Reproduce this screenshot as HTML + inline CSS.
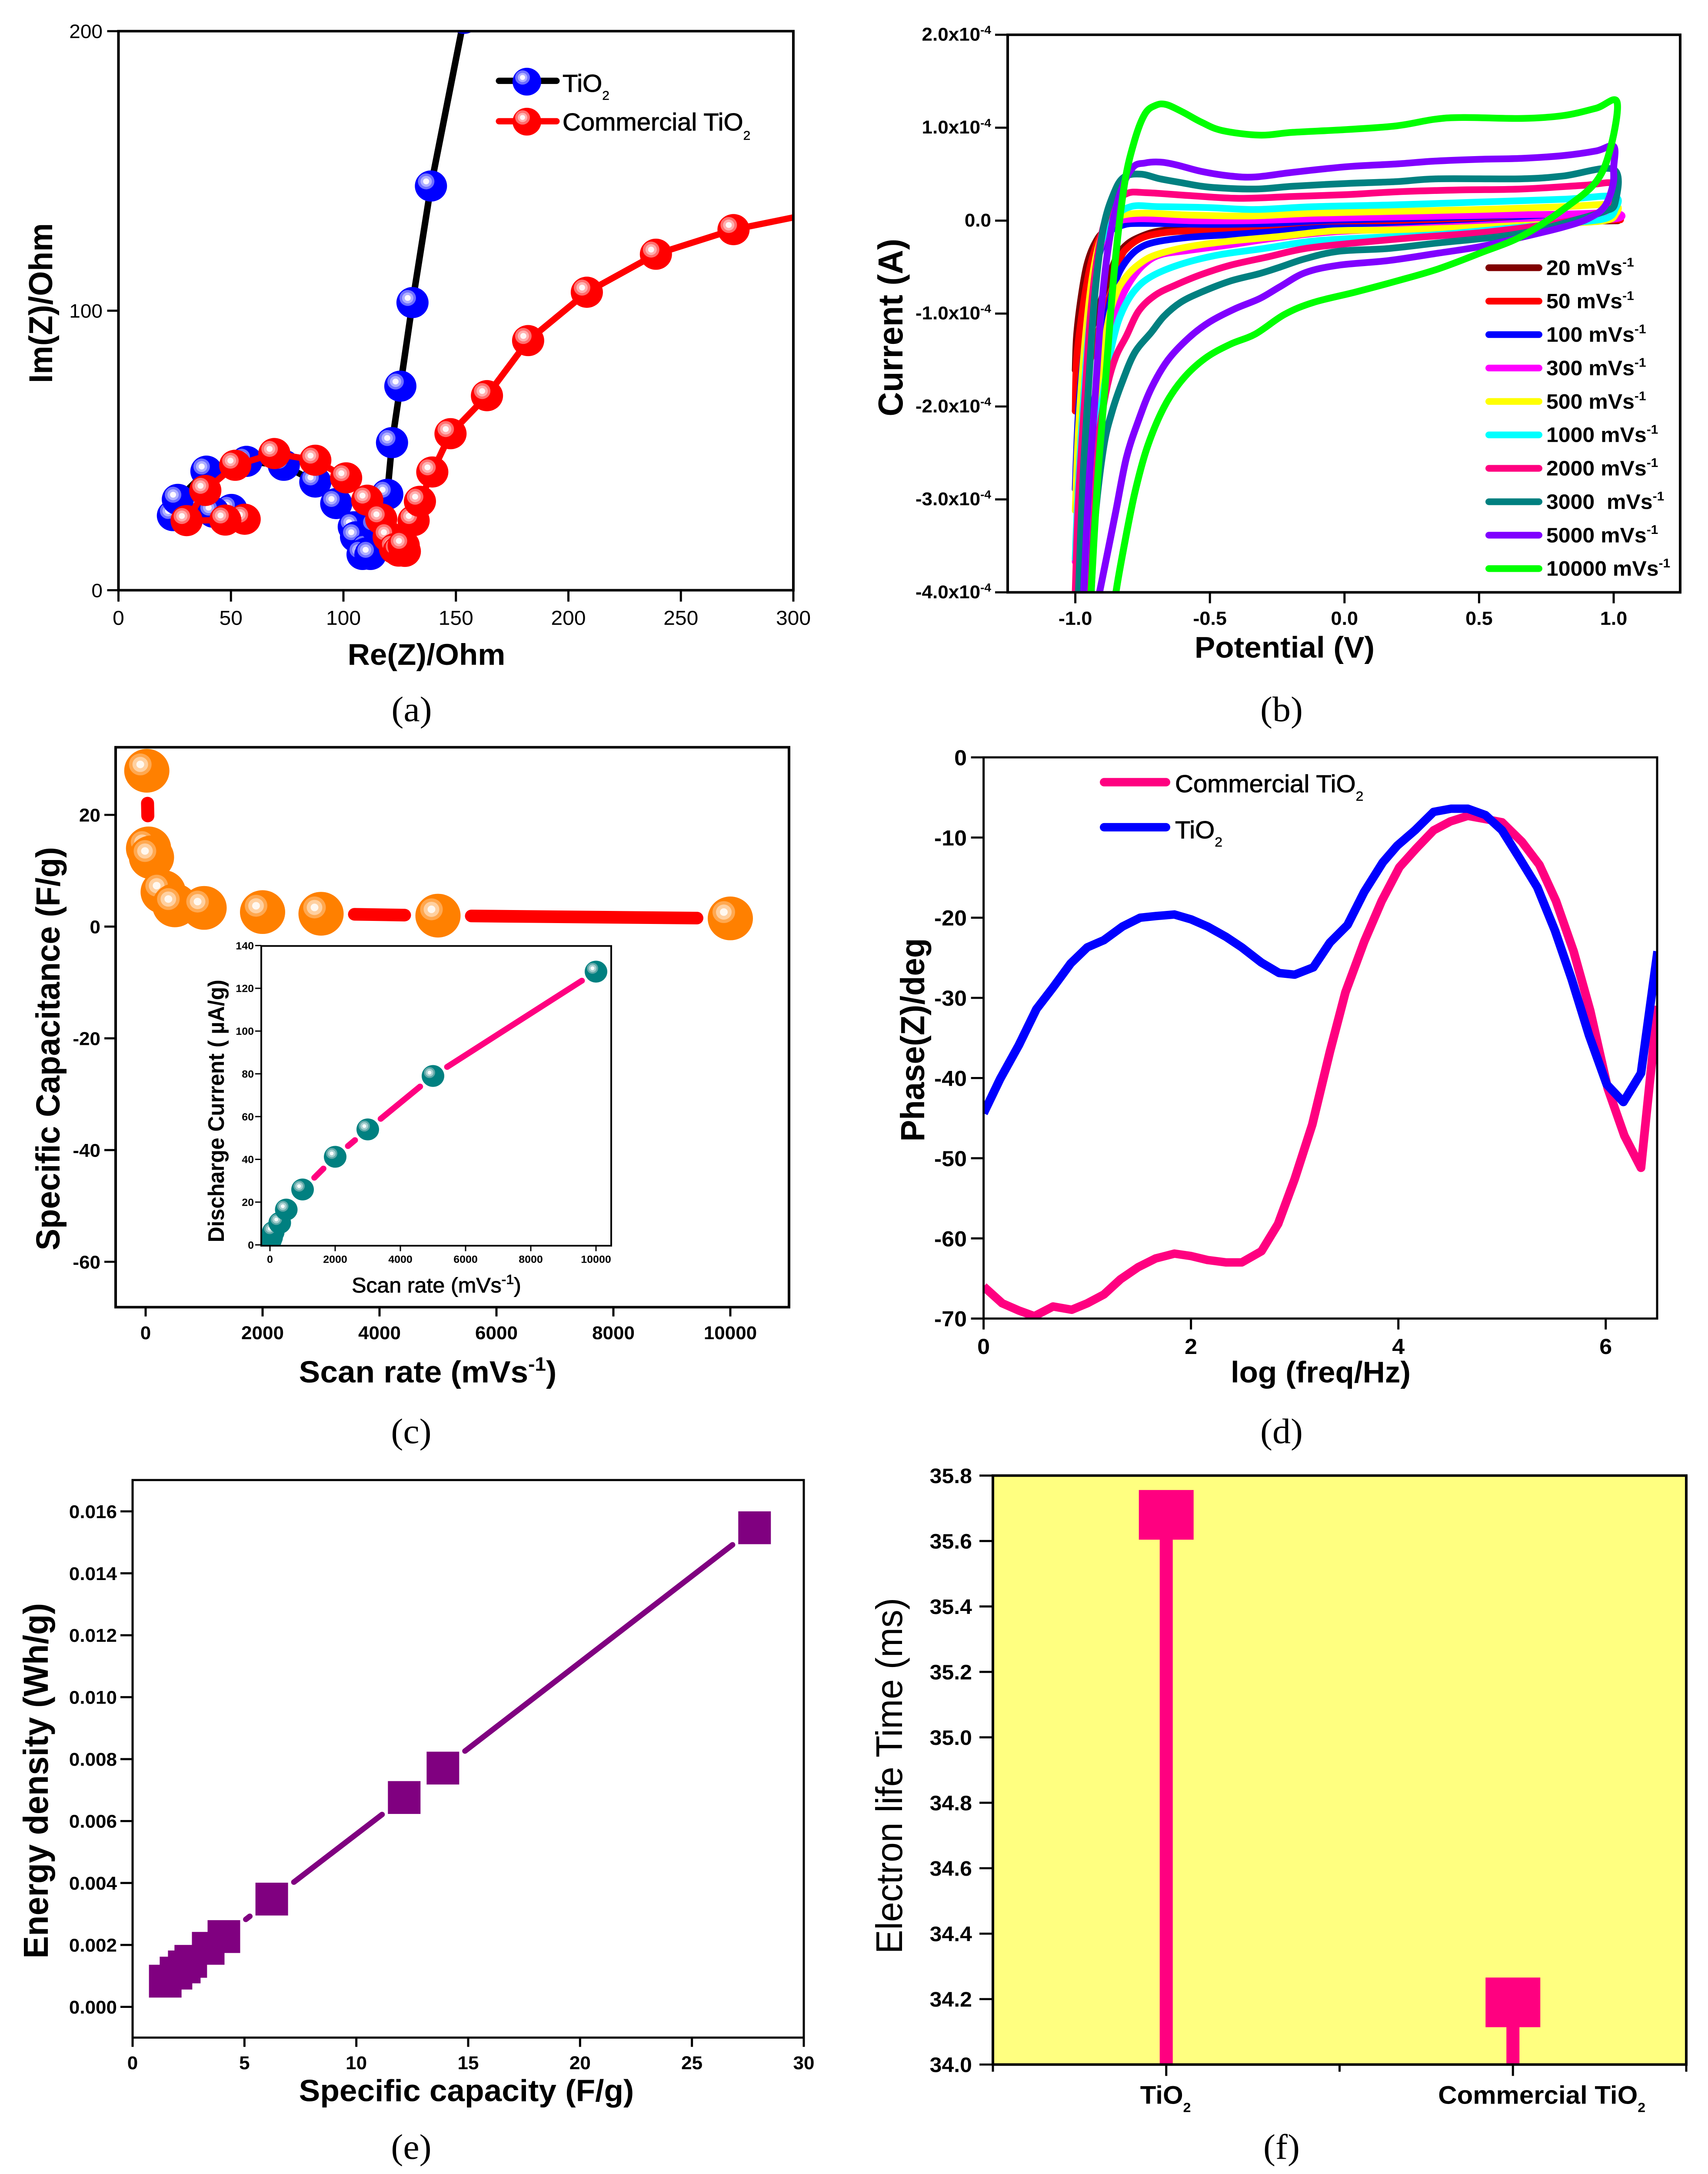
<!DOCTYPE html>
<html lang="en">
<head>
<meta charset="utf-8">
<title>TiO2 electrochemical characterisation figure</title>
<style>
html,body{margin:0;padding:0;background:#fff;width:100vw;height:100vh;overflow:hidden;}
svg{display:block;width:100vw;height:100vh;font-family:"Liberation Sans",sans-serif;fill:#000;}
.cap{font-family:"Liberation Serif",serif;font-size:84px;text-anchor:middle;}
.tb{font-weight:bold;text-anchor:middle;}
.leg{font-size:58px;stroke:#000;stroke-width:1px;}
</style>
</head>
<body>
<svg id="fig" xmlns="http://www.w3.org/2000/svg" viewBox="0 0 3929 5164" preserveAspectRatio="none">
<defs>
<clipPath id="clipA"><rect x="272.5" y="74" width="1552.5" height="1328"/></clipPath>
<clipPath id="clipB"><rect x="2318" y="82.6" width="1547" height="1324.4"/></clipPath>
<clipPath id="clipC"><rect x="266" y="1775" width="1549" height="1330"/></clipPath>
<clipPath id="clipI"><rect x="601" y="2247" width="805" height="712"/></clipPath>
<clipPath id="clipD"><rect x="2262.6" y="1799" width="1550" height="1333"/></clipPath>
</defs>
<g id="panelA">
<text x="981" y="1579" font-size="71" class="tb">Re(Z)/Ohm</text>
<text x="120" y="720" font-size="76" class="tb" transform="rotate(-90 120 720)">Im(Z)/Ohm</text>
<text x="1294" y="218" class="leg">TiO<tspan dy="19" font-size="30" stroke-width="0.5">2</tspan></text>
<text x="1294" y="310" class="leg">Commercial TiO<tspan dy="22" font-size="30" stroke-width="0.5">2</tspan></text>
<text x="947" y="1713" class="cap">(a)</text>
</g>
<g id="panelB">
<text x="2955" y="1562" font-size="71" class="tb">Potential (V)</text>
<text x="2076" y="778" font-size="80" class="tb" transform="rotate(-90 2076 778)">Current (A)</text>
<text x="2948" y="1713" class="cap">(b)</text>
</g>
<g id="panelC">
<text x="984" y="3284" font-size="73" class="tb">Scan rate (mVs<tspan dy="-28" font-size="46">-1</tspan><tspan dy="28">)</tspan></text>
<text x="137" y="2491" font-size="77" class="tb" transform="rotate(-90 137 2491)">Specific Capacitance (F/g)</text>
<text x="1004" y="3070" font-size="50" text-anchor="middle" stroke="#000" stroke-width="1">Scan rate (mVs<tspan dy="-20" font-size="32">-1</tspan><tspan dy="20">)</tspan></text>
<text x="515" y="2639" font-size="52" class="tb" textLength="624" lengthAdjust="spacingAndGlyphs" transform="rotate(-90 515 2639)">Discharge Current ( µA/g)</text>
<text x="946" y="3428" class="cap">(c)</text>
</g>
<g id="panelD">
<text x="3038" y="3284" font-size="71" class="tb">log (freq/Hz)</text>
<text x="2126" y="2470" font-size="77" class="tb" transform="rotate(-90 2126 2470)">Phase(Z)/deg</text>
<text x="2703" y="1882" class="leg">Commercial TiO<tspan dy="20" font-size="32" stroke-width="0.5">2</tspan></text>
<text x="2703" y="1991" class="leg">TiO<tspan dy="20" font-size="32" stroke-width="0.5">2</tspan></text>
<text x="2948" y="3428" class="cap">(d)</text>
</g>
<g id="panelE">
<text x="1073" y="4991" font-size="73" class="tb">Specific capacity (F/g)</text>
<text x="110" y="4230" font-size="80" class="tb" transform="rotate(-90 110 4230)">Energy density (Wh/g)</text>
<text x="946" y="5128" class="cap">(e)</text>
</g>
<g id="panelF">
<text x="2075" y="4218" font-size="85" text-anchor="middle" transform="rotate(-90 2075 4218)">Electron life Time (ms)</text>
<text x="2948" y="5128" class="cap">(f)</text>
</g>
</svg>
<script>
/* ---------- panel a: Nyquist ---------- */
const aTiO2Re=[50.2,42.2,24.2,26.4,39.1,56.9,73.5,87.5,96.8,104.6,105.6,110.6,110,108.5,112,114.5,119.5,121.6,125.3,130.7,138.9,153.6];
const aTiO2Im=[28.9,27.9,26.7,32.5,42.6,46.1,44.7,38.7,31,22.7,19.1,14.9,13.3,12.8,12.8,22.7,34.3,52.8,73,102.9,144.6,204.6];
const aCommRe=[56.1,47.5,30.3,38.6,51.9,69.3,87.5,101.2,110.6,116.8,120.1,122.9,124.6,127.3,126.8,131.2,134,139.5,147.6,163.8,182.1,208.2,238.9,273.4,332];
const aCommIm=[25.4,25.1,24.9,35.7,44.7,48.9,46.5,40.2,32.2,25.5,19.1,14.9,14,13.9,16,24.9,31.8,42.3,56,69.6,89.3,106.6,120.2,129,138.6];
const aXTicks=[0,50,100,150,200,250,300];
const aYTicks=[0,100,200];

/* ---------- panel b: cyclic voltammetry (current in 1e-4 A) ---------- */
const scanLabels=['20\u00A0mVs','50\u00A0mVs','100\u00A0mVs','300\u00A0mVs','500\u00A0mVs','1000\u00A0mVs','2000\u00A0mVs','3000\u00A0\u00A0mVs','5000\u00A0mVs','10000\u00A0mVs'];
const bV20=[-1,-0.995,-0.98,-0.957,-0.926,-0.887,-0.795,-0.424,0.039,0.503,1.005,0.812,0.348,0.039,-0.192,-0.424,-0.578,-0.686,-0.756,-0.81,-0.849,-0.887,-0.934,-0.964,-1];
const bI20=[-1.61,-1.24,-0.86,-0.48,-0.24,-0.11,-0.03,-0.02,0,0,0,-0.01,-0.03,-0.03,-0.05,-0.07,-0.09,-0.11,-0.17,-0.26,-0.41,-0.71,-1.12,-1.31,-1.61];
const bV50=[-1,-0.995,-0.972,-0.941,-0.903,-0.856,-0.825,-0.578,-0.115,0.348,1.005,0.812,0.348,0.039,-0.192,-0.424,-0.578,-0.671,-0.748,-0.802,-0.833,-0.864,-0.895,-0.934,-1];
const bI50=[-2.05,-1.5,-0.94,-0.45,-0.15,-0.07,-0.03,-0.02,0,0.01,0.01,0,-0.03,-0.04,-0.06,-0.09,-0.11,-0.13,-0.18,-0.28,-0.41,-0.75,-1.01,-1.39,-2.05];
const bV100=[-1,-0.988,-0.964,-0.934,-0.887,-0.825,-0.733,-0.501,-0.27,-0.084,0.194,0.595,0.812,1.005,0.812,0.503,0.194,-0.084,-0.27,-0.424,-0.578,-0.702,-0.764,-0.81,-0.849,-0.88,-0.926,-0.964,-1];
const bI100=[-2.89,-2.06,-1.31,-0.64,-0.18,-0.05,-0.03,-0.04,-0.03,0,0.02,0.05,0.04,0.02,0,-0.04,-0.07,-0.08,-0.12,-0.15,-0.18,-0.23,-0.3,-0.43,-0.64,-1.01,-1.88,-2.44,-2.89];
const bV300=[-1,-0.988,-0.964,-0.934,-0.895,-0.849,-0.764,-0.578,-0.347,-0.115,0.194,0.595,0.812,1.005,1.008,0.812,0.503,0.194,-0.038,-0.239,-0.424,-0.578,-0.686,-0.748,-0.795,-0.833,-0.864,-0.903,-0.949,-1];
const bI300=[-3.67,-2.82,-1.69,-0.75,-0.18,-0.02,0.02,0,0,0.02,0.04,0.06,0.07,0.08,0.02,0,-0.05,-0.09,-0.12,-0.18,-0.26,-0.32,-0.37,-0.48,-0.65,-0.86,-1.12,-1.88,-2.82,-3.67];
const bV500=[-1,-0.988,-0.964,-0.934,-0.895,-0.841,-0.748,-0.578,-0.347,-0.115,0.194,0.503,0.812,1,1.005,0.966,0.812,0.503,0.194,-0.038,-0.239,-0.424,-0.578,-0.702,-0.764,-0.81,-0.849,-0.88,-0.918,-0.964,-1];
const bI500=[-3.12,-2.25,-1.31,-0.56,-0.11,0.04,0.08,0.06,0.05,0.08,0.1,0.12,0.15,0.17,0.06,0,-0.03,-0.07,-0.1,-0.11,-0.17,-0.22,-0.28,-0.37,-0.47,-0.6,-0.79,-1.12,-1.88,-2.63,-3.12];
const bV1000=[-1,-0.988,-0.964,-0.941,-0.91,-0.864,-0.795,-0.686,-0.501,-0.331,-0.115,0.194,0.503,0.812,1,1.005,0.966,0.812,0.58,0.348,0.117,-0.115,-0.3,-0.47,-0.609,-0.717,-0.779,-0.825,-0.856,-0.887,-0.926,-0.964,-1];
const bI1000=[-3.64,-2.82,-1.69,-0.94,-0.3,0,0.15,0.15,0.14,0.12,0.15,0.17,0.2,0.23,0.26,0.12,0.02,-0.03,-0.09,-0.15,-0.18,-0.22,-0.3,-0.37,-0.47,-0.6,-0.75,-0.97,-1.24,-1.69,-2.44,-3.19,-3.64];
const bV2000=[-1,-0.988,-0.964,-0.941,-0.91,-0.872,-0.81,-0.733,-0.578,-0.393,-0.192,0.008,0.194,0.425,0.657,0.889,1,1.005,0.966,0.873,0.734,0.503,0.271,0.039,-0.146,-0.285,-0.424,-0.532,-0.625,-0.702,-0.764,-0.81,-0.849,-0.88,-0.91,-0.934,-0.964];
const bI2000=[-4,-3,-1.88,-0.94,-0.26,0.12,0.29,0.3,0.27,0.24,0.26,0.28,0.31,0.33,0.34,0.38,0.4,0.23,0.12,0.02,-0.05,-0.13,-0.18,-0.24,-0.3,-0.39,-0.48,-0.58,-0.69,-0.8,-0.97,-1.24,-1.46,-1.76,-2.25,-2.82,-4];
const bV3000=[-0.988,-0.972,-0.949,-0.926,-0.895,-0.856,-0.818,-0.756,-0.686,-0.609,-0.501,-0.331,-0.192,0.008,0.194,0.348,0.657,0.812,1,1.005,0.966,0.873,0.734,0.58,0.348,0.163,-0.022,-0.146,-0.239,-0.316,-0.424,-0.532,-0.609,-0.671,-0.717,-0.779,-0.825,-0.864,-0.895,-0.926,-0.941];
const bI3000=[-4,-2.82,-1.69,-0.75,-0.07,0.3,0.47,0.5,0.45,0.41,0.36,0.34,0.37,0.4,0.42,0.45,0.45,0.48,0.55,0.19,0.1,0.02,-0.09,-0.17,-0.24,-0.3,-0.33,-0.41,-0.5,-0.57,-0.65,-0.77,-0.88,-1.03,-1.2,-1.42,-1.73,-2.06,-2.44,-3.19,-4];
const bV5000=[-0.969,-0.949,-0.926,-0.903,-0.872,-0.833,-0.787,-0.741,-0.686,-0.625,-0.532,-0.424,-0.331,-0.192,0.008,0.194,0.333,0.503,0.657,0.812,0.935,1,1,0.997,0.966,0.904,0.812,0.657,0.503,0.348,0.163,-0.022,-0.146,-0.239,-0.316,-0.408,-0.501,-0.578,-0.656,-0.717,-0.764,-0.81,-0.849,-0.88,-0.91];
const bI5000=[-4,-2.82,-1.88,-0.94,-0.18,0.3,0.57,0.62,0.63,0.6,0.53,0.48,0.47,0.52,0.58,0.61,0.64,0.66,0.67,0.7,0.75,0.8,0.57,0.38,0.15,0.02,-0.07,-0.18,-0.28,-0.35,-0.43,-0.48,-0.56,-0.71,-0.84,-0.95,-1.09,-1.26,-1.5,-1.8,-2.14,-2.55,-3.12,-3.57,-4];
const bV10000=[-0.947,-0.918,-0.887,-0.856,-0.818,-0.779,-0.741,-0.702,-0.663,-0.602,-0.532,-0.455,-0.316,-0.192,0.008,0.194,0.333,0.441,0.657,0.812,0.935,1.012,0.989,0.935,0.812,0.657,0.503,0.348,0.194,0.039,-0.115,-0.223,-0.331,-0.424,-0.517,-0.602,-0.671,-0.733,-0.779,-0.818,-0.849,-0.86];
const bI10000=[-4.3,-2.82,-1.69,-0.56,0.38,0.87,1.15,1.24,1.25,1.17,1.06,0.97,0.92,0.95,0.98,1.02,1.09,1.11,1.1,1.13,1.21,1.28,0.79,0.42,0.12,-0.17,-0.35,-0.52,-0.65,-0.77,-0.88,-1.01,-1.22,-1.33,-1.48,-1.71,-2.01,-2.44,-2.93,-3.49,-4,-4.3];
const bXTicks=[-1,-0.5,0,0.5,1];
const bYTicks=[2,1,0,-1,-2,-3,-4];

/* ---------- panel c: capacitance vs scan rate and inset ---------- */
const cScanRates=[20,50,100,300,500,1000,2000,3000,5000,10000];
const cCapacitance=[27.9,14,12.4,6.2,3.8,3.35,2.6,2.3,1.96,1.47];
const cXTicks=[0,2000,4000,6000,8000,10000];
const cYTicks=[20,0,-20,-40,-60];
const insetScanRates=[20,50,100,300,500,1000,2000,3000,5000,10000];
const insetCurrent=[2.3,3.5,6,10.3,16.5,25.9,41.2,54,79,127.8];
const insetXTicks=[0,2000,4000,6000,8000,10000];
const insetYTicks=[0,20,40,60,80,100,120,140];

/* ---------- panel d: Bode phase ---------- */
const dCommLogF=[0,0.18,0.34,0.49,0.67,0.85,1,1.16,1.32,1.49,1.66,1.84,2,2.16,2.34,2.49,2.68,2.84,3,3.17,3.34,3.49,3.67,3.84,4.01,4.17,4.34,4.5,4.67,4.84,5,5.19,5.36,5.52,5.69,5.85,6.02,6.18,6.34,6.5];
const dCommPhase=[-66,-68.1,-69,-69.7,-68.5,-68.9,-68.1,-67,-65.1,-63.6,-62.5,-61.9,-62.2,-62.7,-63,-63,-61.6,-58.2,-52.6,-45.8,-36.7,-29.3,-23,-17.9,-13.7,-11.4,-9.1,-8,-7.3,-7.7,-8.1,-10.5,-13.4,-17.9,-24.2,-31.6,-41.3,-47.2,-51.2,-31];
const dTiO2LogF=[0,0.16,0.34,0.51,0.67,0.84,1,1.16,1.34,1.51,1.66,1.84,2,2.16,2.34,2.49,2.68,2.85,3,3.18,3.34,3.51,3.67,3.85,3.99,4.16,4.34,4.51,4.67,4.84,5,5.16,5.34,5.51,5.67,5.84,6.01,6.17,6.34,6.5];
const dTiO2Phase=[-44.4,-40.1,-35.9,-31.4,-28.7,-25.7,-23.7,-22.8,-21.1,-20,-19.8,-19.6,-20.2,-21.1,-22.4,-23.7,-25.6,-26.9,-27.1,-26.2,-23.1,-20.9,-16.8,-13.1,-11,-9.1,-6.8,-6.4,-6.4,-7.2,-9.1,-12.4,-16.2,-21.6,-27.6,-34.7,-40.8,-43,-39.4,-24.2];
const dXTicks=[0,2,4,6];
const dYTicks=[0,-10,-20,-30,-40,-50,-60,-70];

/* ---------- panel e: energy density ---------- */
const eCapacity=[1.46,1.94,2.31,2.6,3.38,4.08,6.22,12.14,13.87,27.8];
const eEnergy=[0.00083,0.00109,0.00129,0.00147,0.00189,0.00227,0.00348,0.00676,0.00771,0.01547];
const eXTicks=[0,5,10,15,20,25,30];
const eYTicks=[0,0.002,0.004,0.006,0.008,0.01,0.012,0.014,0.016];

/* ---------- panel f: electron lifetime ---------- */
const fCategories=['TiO','Commercial TiO'];
const fLifetime=[35.68,34.19];
const fYTicks=[34,34.2,34.4,34.6,34.8,35,35.2,35.4,35.6,35.8];

const NS='http://www.w3.org/2000/svg';
function mk(parent,tag,attrs){
  const el=document.createElementNS(NS,tag);
  for(const k in attrs){el.setAttribute(k,attrs[k]);}
  parent.appendChild(el);
  return el;
}
function linear(d0,d1,r0,r1){return v=>r0+(v-d0)*(r1-r0)/(d1-d0);}
function xyPoints(xs,ys,fx,fy){return xs.map((v,i)=>[fx(v),fy(ys[i])]);}
function polyD(pts){return 'M'+pts.map(p=>p[0].toFixed(1)+' '+p[1].toFixed(1)).join('L');}
function smoothD(pts){
  let d='M'+pts[0][0].toFixed(1)+' '+pts[0][1].toFixed(1);
  const n=pts.length;
  for(let i=0;i<n-1;i++){
    const a=pts[Math.max(i-1,0)],b=pts[i],c=pts[i+1],e=pts[Math.min(i+2,n-1)];
    d+='C'+(b[0]+(c[0]-a[0])/6).toFixed(1)+' '+(b[1]+(c[1]-a[1])/6).toFixed(1)+' '+(c[0]-(e[0]-b[0])/6).toFixed(1)+' '+(c[1]-(e[1]-b[1])/6).toFixed(1)+' '+c[0].toFixed(1)+' '+c[1].toFixed(1);
  }
  return d;
}
function frame(g,x0,y0,x1,y1,w,fill){
  const r=mk(g,'rect',{x:x0,y:y0,width:x1-x0,height:y1-y0,fill:fill||'none',stroke:'#000','stroke-width':w});
  
  
  return r;
}
function xAxis(g,values,labels,fx,base,len,w,labelY,size,weight){
  values.forEach((v,i)=>{
    const t=mk(g,'line',{x1:fx(v),x2:fx(v),y1:base,y2:base+len,stroke:'#000','stroke-width':w});
    
    
    const l=mk(g,'text',{x:fx(v),y:labelY,'font-size':size,'font-weight':weight,'text-anchor':'middle'});
    l.textContent=labels[i];
    
    
  });
}
function yAxis(g,values,labels,fy,base,len,w,labelX,size,weight){
  values.forEach((v,i)=>{
    const t=mk(g,'line',{x1:base-len,x2:base,y1:fy(v),y2:fy(v),stroke:'#000','stroke-width':w});
    
    
    const l=mk(g,'text',{x:labelX,y:fy(v)+size*0.36,'font-size':size,'font-weight':weight,'text-anchor':'end'});
    l.textContent=labels[i];
    
    
  });
}
function ball(parent,cx,cy,r,base,rings,radii,off){
  const g=mk(parent,'g',{});
  
  
  const c=mk(g,'circle',{cx:cx,cy:cy,r:r,fill:base});
  
  
  rings.forEach((col,i)=>{
    const h=mk(g,'circle',{cx:cx-off,cy:cy-off,r:radii[i],fill:col});
    
    
  });
  return g;
}
function gapLines(parent,pts,gap,color,w){
  for(let i=0;i<pts.length-1;i++){
    const a=pts[i],b=pts[i+1];
    const dx=b[0]-a[0],dy=b[1]-a[1],len=Math.hypot(dx,dy);
    if(len<=2*gap){continue;}
    const ux=dx/len,uy=dy/len;
    const s=mk(parent,'line',{x1:a[0]+ux*gap,y1:a[1]+uy*gap,x2:b[0]-ux*gap,y2:b[1]-uy*gap,stroke:color,'stroke-width':w,'stroke-linecap':'round'});
    
    
  }
}

/* ===== panel a ===== */
(function(){
  const g=document.getElementById('panelA');
  const fx=linear(0,300,272.5,1825),fy=linear(0,200,1402,74);
  const clip=mk(g,'g',{'clip-path':'url(#clipA)'});
  
  
  const blueRings=['#7070ff','#b0b0ff','#fff8ff'],redRings=['#ff7070','#ffb0b0','#fff8f8'],radii=[19,13,7];
  const l1=mk(clip,'path',{d:polyD(xyPoints(aTiO2Re,aTiO2Im,fx,fy)),fill:'none',stroke:'#000','stroke-width':15,'stroke-linejoin':'round'});
  
  
  xyPoints(aTiO2Re,aTiO2Im,fx,fy).forEach(p=>{ball(clip,p[0],p[1],37,'#00f',blueRings,radii,11);});
  const l2=mk(clip,'path',{d:polyD(xyPoints(aCommRe,aCommIm,fx,fy)),fill:'none',stroke:'#f00','stroke-width':15,'stroke-linejoin':'round'});
  
  
  xyPoints(aCommRe,aCommIm,fx,fy).forEach(p=>{ball(clip,p[0],p[1],37,'#f00',redRings,radii,11);});
  frame(g,272.5,74,1825,1402,6);
  xAxis(g,aXTicks,aXTicks.map(String),fx,1402,27,5,1484,48,'normal');
  yAxis(g,aYTicks,aYTicks.map(String),fy,272.5,26,5,236,46,'normal');
  const k1=mk(g,'line',{x1:1148,x2:1280,y1:192,y2:192,stroke:'#000','stroke-width':15,'stroke-linecap':'round'});
  
  
  ball(g,1212,194,33,'#00f',blueRings,[17,11,6],10);
  const k2=mk(g,'line',{x1:1148,x2:1280,y1:288,y2:288,stroke:'#f00','stroke-width':15,'stroke-linecap':'round'});
  
  
  ball(g,1212,289,33,'#f00',redRings,[17,11,6],10);
})();

/* ===== panel b ===== */
(function(){
  const g=document.getElementById('panelB');
  const fx=linear(-1.25,1.25,2318.8,3866.8),fy=linear(2,-4,82.6,1407);
  const volts=[bV20,bV50,bV100,bV300,bV500,bV1000,bV2000,bV3000,bV5000,bV10000];
  const amps=[bI20,bI50,bI100,bI300,bI500,bI1000,bI2000,bI3000,bI5000,bI10000];
  const colors=['#800000','#ff0000','#0000ff','#ff00ff','#ffff00','#00ffff','#ff0080','#008080','#8000ff','#00ff00'];
  const clip=mk(g,'g',{'clip-path':'url(#clipB)'});
  
  
  volts.forEach((vs,i)=>{
    const p=mk(clip,'path',{d:smoothD(xyPoints(vs,amps[i],fx,fy)),fill:'none',stroke:colors[i],'stroke-width':16,'stroke-linejoin':'round','stroke-linecap':'round'});
    
    
  });
  frame(g,2318,82.6,3865,1407,6);
  xAxis(g,bXTicks,bXTicks.map(v=>v.toFixed(1)),fx,1407,26,5,1484,45,'bold');
  bYTicks.forEach(v=>{
    const t=mk(g,'line',{x1:2289,x2:2318,y1:fy(v),y2:fy(v),stroke:'#000','stroke-width':5});
    
    
    const l=mk(g,'text',{x:2280,y:fy(v)+14,'font-size':44,'font-weight':'bold','text-anchor':'end'});
    
    
    if(v===0){l.textContent='0.0';}
    else{
      l.textContent=v.toFixed(1)+'x10';
      const s=mk(l,'tspan',{dy:-16,'font-size':28});
      s.textContent='-4';
      
      
    }
  });
  scanLabels.forEach((name,i)=>{
    const y=636+79.4*i;
    const k=mk(g,'line',{x1:3425,x2:3540,y1:y,y2:y,stroke:colors[i],'stroke-width':16,'stroke-linecap':'round'});
    
    
    const l=mk(g,'text',{x:3557,y:y+17,'font-size':50,'font-weight':'bold'});
    l.textContent=name;
    
    
    const s=mk(l,'tspan',{dy:-20,'font-size':30});
    s.textContent='-1';
    
    
  });
})();

/* ===== panel c ===== */
(function(){
  const g=document.getElementById('panelC');
  const fx=linear(0,10000,335,1680),fy=linear(0,20,2201,1935.6);
  const clip=mk(g,'g',{'clip-path':'url(#clipC)'});
  
  
  const pts=xyPoints(cScanRates,cCapacitance,fx,fy);
  gapLines(clip,pts,77,'#f00',30);
  pts.forEach(p=>{ball(clip,p[0],p[1],52,'#ff8000',['#ffa850','#ffd0a0','#fff8f0'],[26,18,9],15);});
  frame(g,266,1775,1815,3105,6);
  xAxis(g,cXTicks,cXTicks.map(String),fx,3105,22,5,3181,44,'bold');
  yAxis(g,cYTicks,cYTicks.map(String),fy,266,26,5,231,44,'bold');
  const ifx=linear(0,10000,621,1371),ify=linear(0,140,2957,2246);
  const ic=mk(g,'g',{'clip-path':'url(#clipI)'});
  
  
  const ip=xyPoints(insetScanRates,insetCurrent,ifx,ify);
  gapLines(ic,ip,39,'#ff0080',14);
  ip.forEach(p=>{ball(ic,p[0],p[1],26,'#008080',['#60a8a8','#a8d0d0','#f8ffff'],[13,9,4.5],8);});
  frame(g,601,2247,1406,2959,4);
  xAxis(g,insetXTicks,insetXTicks.map(String),ifx,2959,13,3,3000,25,'bold');
  yAxis(g,insetYTicks,insetYTicks.map(String),ify,601,14,3,584,25,'bold');
})();

/* ===== panel d ===== */
(function(){
  const g=document.getElementById('panelD');
  const fx=linear(0,6.5,2262.6,3813),fy=linear(0,-70,1799,3132);
  const clip=mk(g,'g',{'clip-path':'url(#clipD)'});
  
  
  const p1=mk(clip,'path',{d:polyD(xyPoints(dCommLogF,dCommPhase,fx,fy)),fill:'none',stroke:'#ff0080','stroke-width':20,'stroke-linejoin':'round'});
  
  
  const p2=mk(clip,'path',{d:polyD(xyPoints(dTiO2LogF,dTiO2Phase,fx,fy)),fill:'none',stroke:'#0000ff','stroke-width':20,'stroke-linejoin':'round'});
  
  
  frame(g,2262.6,1799,3812,3132,5);
  xAxis(g,dXTicks,dXTicks.map(String),fx,3132,26,5,3216,52,'bold');
  yAxis(g,dYTicks,dYTicks.map(String),fy,2262.6,29,5,2224,52,'bold');
  const k1=mk(g,'line',{x1:2540,x2:2682,y1:1858,y2:1858,stroke:'#ff0080','stroke-width':20,'stroke-linecap':'round'});
  
  
  const k2=mk(g,'line',{x1:2540,x2:2682,y1:1965,y2:1965,stroke:'#0000ff','stroke-width':20,'stroke-linecap':'round'});
  
  
})();

/* ===== panel e ===== */
(function(){
  const g=document.getElementById('panelE');
  const fx=linear(0,30,305,1849),fy=linear(0,0.016,4767,3590);
  const pts=xyPoints(eCapacity,eEnergy,fx,fy);
  gapLines(g,pts,65,'#800080',13);
  pts.forEach(p=>{
    const m=mk(g,'rect',{x:p[0]-37.5,y:p[1]-39,width:75,height:78,fill:'#800080'});
    
    
  });
  frame(g,305,3515.6,1849,4840,5);
  xAxis(g,eXTicks,eXTicks.map(String),fx,4840,22,5,4915,44,'bold');
  yAxis(g,eYTicks,eYTicks.map(v=>v.toFixed(3)),fy,305,28,5,269,44,'bold');
})();

/* ===== panel f ===== */
(function(){
  const g=document.getElementById('panelF');
  const fx=linear(0.5,2.5,2284,3879),fy=linear(34,35.8,4904,3505);
  const bg=mk(g,'rect',{x:2284,y:3505,width:1595,height:1399,fill:'#ffff80'});
  
  
  fLifetime.forEach((v,i)=>{
    const cx=fx(i+1);
    const d=mk(g,'rect',{x:cx-15,y:fy(v),width:30,height:fy(34)-fy(v),fill:'#ff0080'});
    
    
    const m=mk(g,'rect',{x:cx-63,y:fy(v)-59,width:126,height:118,fill:'#ff0080'});
    
    
  });
  frame(g,2284,3505,3879,4904,6);
  yAxis(g,fYTicks,fYTicks.map(v=>v.toFixed(1)),fy,2284,31,5,2236,50,'bold');
  [0.5,1,1.5,2,2.5].forEach(c=>{
    const major=Number.isInteger(c);
    const t=mk(g,'line',{x1:fx(c),x2:fx(c),y1:4904,y2:major?4931:4921,stroke:'#000','stroke-width':5});
    
    
  });
  fCategories.forEach((name,i)=>{
    const lx=fx(i+1)-(i===0?60:172);
    const l=mk(g,'text',{x:lx,y:4997,'font-size':60,'font-weight':'bold'});
    l.textContent=name;
    
    
    const s=mk(l,'tspan',{dy:20,'font-size':32});
    s.textContent='2';
    
    
  });
})();
</script>
</body>
</html>
